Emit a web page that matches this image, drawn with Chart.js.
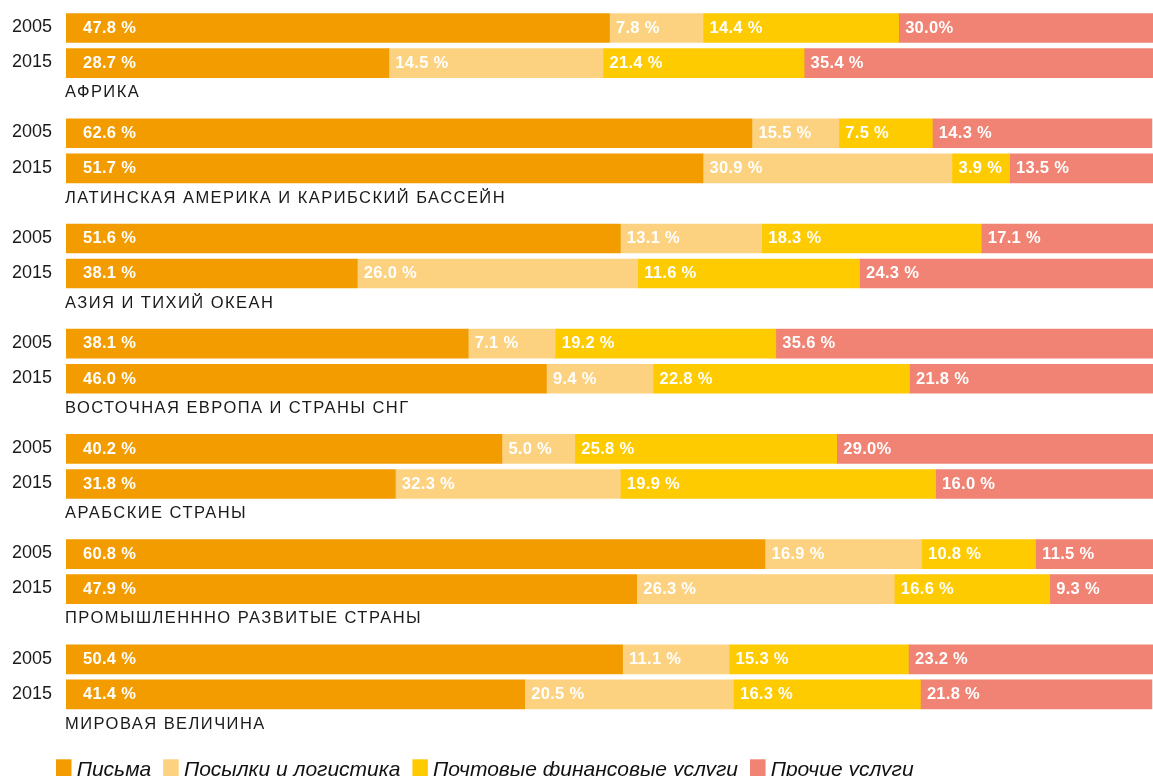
<!DOCTYPE html>
<html>
<head>
<meta charset="utf-8">
<script src="https://cdn.jsdelivr.net/npm/chart.js@4/dist/chart.umd.min.js"></script>
<style>
html, body { margin: 0; padding: 0; background: #fff; overflow: hidden; }
#wrap { position: relative; width: 1153px; height: 776px; }
</style>
</head>
<body>
<div id="wrap"><canvas id="chart"></canvas></div>
<script>
/* Data */
const regions = ['АФРИКА', 'ЛАТИНСКАЯ АМЕРИКА И КАРИБСКИЙ БАССЕЙН', 'АЗИЯ И ТИХИЙ ОКЕАН',
	'ВОСТОЧНАЯ ЕВРОПА И СТРАНЫ СНГ', 'АРАБСКИЕ СТРАНЫ', 'ПРОМЫШЛЕНННО РАЗВИТЫЕ СТРАНЫ', 'МИРОВАЯ ВЕЛИЧИНА'];
const years = ['2005', '2015'];
const seriesNames = ['Письма', 'Посылки и логистика', 'Почтовые финансовые услуги', 'Прочие услуги'];
const colors = ['#F39C00', '#FCD281', '#FECB00', '#F08373'];

// bar lengths as drawn (one entry per bar: region x year)
const letters = [50.0, 29.7, 63.1, 58.6, 51.0, 26.8, 37.0, 44.2, 40.1, 30.3, 64.3, 52.5, 51.2, 42.2];
const parcels = [8.6, 19.7, 8.0, 22.9, 13.0, 25.8, 8.0, 9.8, 6.7, 20.7, 14.4, 23.7, 9.8, 19.2];
const finance = [18.0, 18.5, 8.6, 5.3, 20.2, 20.4, 20.3, 23.6, 24.1, 29.0, 10.5, 14.3, 16.5, 17.2];
const other = [23.4, 32.1, 20.2, 13.2, 15.8, 27.0, 34.7, 22.4, 29.1, 20.1, 10.9, 9.5, 22.5, 21.3];

// printed labels
const lettersText = ['47.8 %', '28.7 %', '62.6 %', '51.7 %', '51.6 %', '38.1 %', '38.1 %', '46.0 %', '40.2 %', '31.8 %', '60.8 %', '47.9 %', '50.4 %', '41.4 %'];
const parcelsText = ['7.8 %', '14.5 %', '15.5 %', '30.9 %', '13.1 %', '26.0 %', '7.1 %', '9.4 %', '5.0 %', '32.3 %', '16.9 %', '26.3 %', '11.1 %', '20.5 %'];
const financeText = ['14.4 %', '21.4 %', '7.5 %', '3.9 %', '18.3 %', '11.6 %', '19.2 %', '22.8 %', '25.8 %', '19.9 %', '10.8 %', '16.6 %', '15.3 %', '16.3 %'];
const otherText = ['30.0%', '35.4 %', '14.3 %', '13.5 %', '17.1 %', '24.3 %', '35.6 %', '21.8 %', '29.0%', '16.0 %', '11.5 %', '9.3 %', '23.2 %', '21.8 %'];

const values = [letters, parcels, finance, other];
const texts = [lettersText, parcelsText, financeText, otherText];

/* build rows: 2005, 2015, then an empty row for the region name */
var labels = [];
var rowIndex = [];
regions.forEach(function(r, g) {
	years.forEach(function(y, j) {
		rowIndex.push(labels.length);
		labels.push(y);
	});
	labels.push('');
});

function toRows(arr) {
	var out = labels.map(function() { return null; });
	arr.forEach(function(v, i) { out[rowIndex[i]] = v; });
	return out;
}

const FONT = '"Liberation Sans", Arial, sans-serif';

var textPlugin = {
	id: 'texts',
	afterDatasetsDraw: function(chart) {
		var ctx = chart.ctx;
		var yScale = chart.scales.y;
		ctx.save();

		// value labels inside bars
		ctx.fillStyle = '#fff';
		ctx.font = 'bold 16.5px ' + FONT;
		ctx.letterSpacing = '0.3px';
		ctx.textAlign = 'left';
		ctx.textBaseline = 'alphabetic';
		chart.data.datasets.forEach(function(ds, d) {
			var meta = chart.getDatasetMeta(d);
			rowIndex.forEach(function(row, i) {
				var el = meta.data[row];
				var x0 = Math.min(el.base, el.x);
				ctx.fillText(texts[d][i], x0 + (d === 0 ? 17 : 6.5), el.y + 4.8);
			});
		});

		// year labels
		ctx.fillStyle = '#1a1a1a';
		ctx.font = '18px ' + FONT;
		ctx.letterSpacing = '0px';
		ctx.textAlign = 'right';
		rowIndex.forEach(function(row) {
			ctx.fillText(labels[row], chart.chartArea.left - 14, yScale.getPixelForValue(row) + 4.2);
		});

		// region names under each pair
		ctx.font = '16.5px ' + FONT;
		ctx.letterSpacing = '1.45px';
		ctx.textAlign = 'left';
		regions.forEach(function(r, g) {
			var row = rowIndex[g * 2 + 1];
			ctx.fillText(r, chart.chartArea.left - 1, yScale.getPixelForValue(row) + 34.3);
		});

		// legend (cut by the bottom edge, as in the source)
		ctx.font = 'italic 21px ' + FONT;
		ctx.letterSpacing = '0px';
		var x = 56;
		seriesNames.forEach(function(name, d) {
			ctx.fillStyle = colors[d];
			ctx.fillRect(x, 759.3, 15.5, 17);
			ctx.fillStyle = '#111';
			ctx.fillText(name, x + 20.7, 775.8);
			x += 20.7 + ctx.measureText(name).width + 12;
		});

		ctx.restore();
	}
};

var ctx = document.getElementById('chart');
new Chart(ctx, {
	type: 'bar',
	data: {
		labels: labels,
		datasets: seriesNames.map(function(name, d) {
			return {
				label: name,
				data: toRows(values[d]),
				backgroundColor: colors[d],
				borderWidth: 0,
				barThickness: 29
			};
		})
	},
	options: {
		indexAxis: 'y',
		responsive: true,
		maintainAspectRatio: false,
		animation: false,
		layout: { padding: { left: 66, right: 0, top: 10.5, bottom: 29 } },
		scales: {
			x: { stacked: true, min: 0, max: 100, display: false },
			y: { stacked: true, display: false }
		},
		plugins: {
			legend: { display: false },
			tooltip: { enabled: false }
		}
	},
	plugins: [textPlugin]
});
</script>
</body>
</html>
